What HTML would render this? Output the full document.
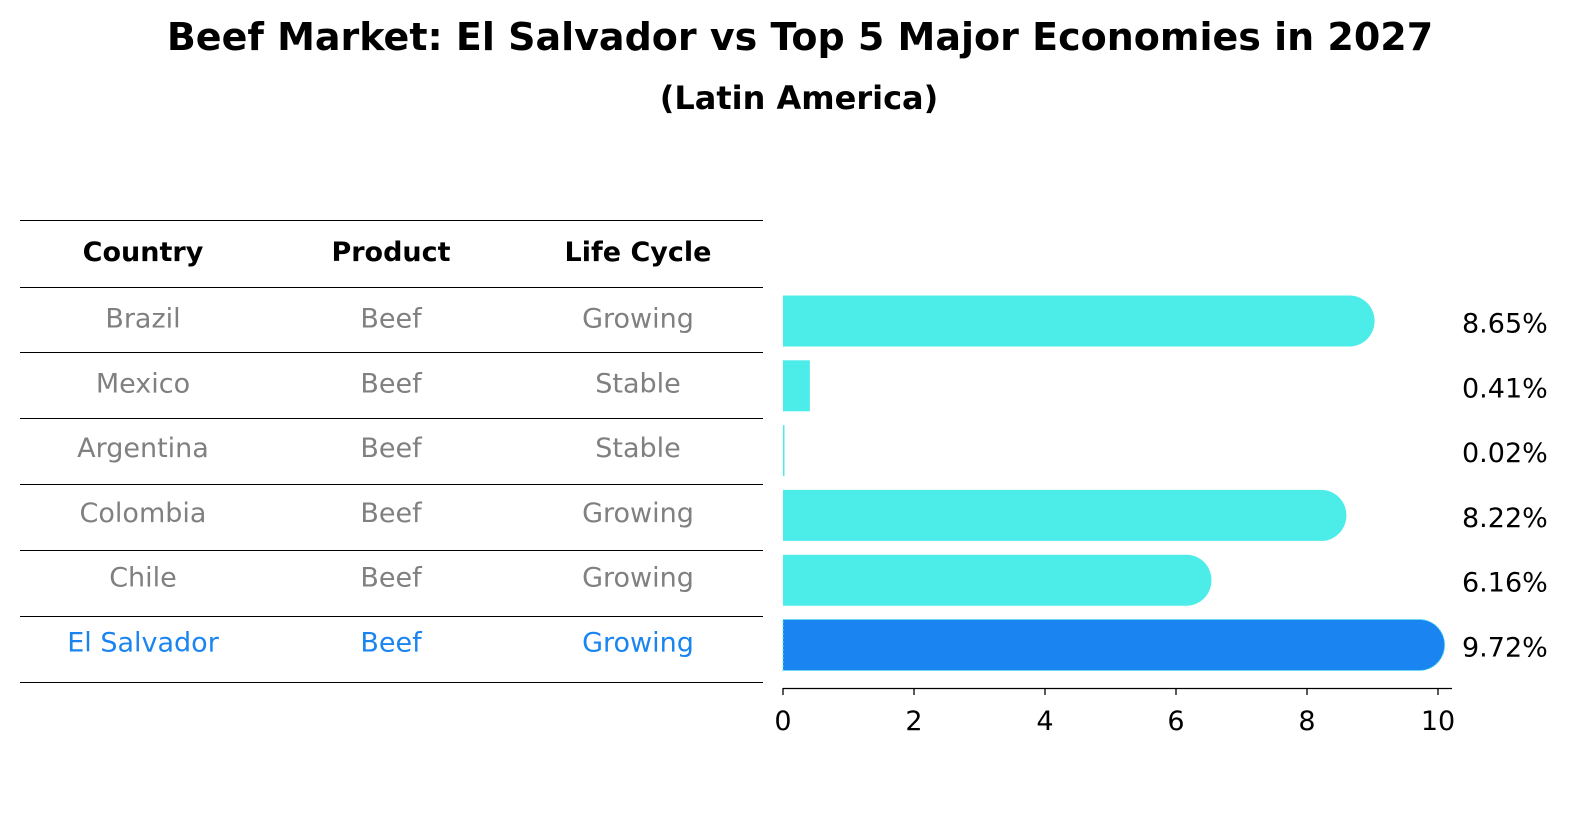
<!DOCTYPE html>
<html><head><meta charset="utf-8"><style>
body{margin:0;background:#fff;font-family:"DejaVu Sans","Liberation Sans",sans-serif;}
svg{display:block}
</style></head><body>
<svg id="c" width="1586" height="823" style="font-family:'DejaVu Sans','Liberation Sans',sans-serif">
<text x="800" y="50" text-anchor="middle" font-size="38" font-weight="bold">Beef Market: El Salvador vs Top 5 Major Economies in 2027</text>
<text x="799" y="109" text-anchor="middle" font-size="32" font-weight="bold">(Latin America)</text>
<g id="table"></g>
<g id="bars"></g>
</svg>
<script>
const countries=["Brazil","Mexico","Argentina","Colombia","Chile","El Salvador"];
const products=["Beef","Beef","Beef","Beef","Beef","Beef"];
const lifeCycles=["Growing","Stable","Stable","Growing","Growing","Growing"];
const values=[8.65,0.41,0.02,8.22,6.16,9.72];
const ticks=[0,2,4,6,8,10];
const NS="http://www.w3.org/2000/svg";
const x0=783,x10=1438;
const xs=v=>x0+(x10-x0)*v/10;
const rowY=i=>320.5+i*64.8;
function mk(tag,attrs,parent,text){const e=document.createElementNS(NS,tag);for(const k in attrs)e.setAttribute(k,attrs[k]);if(text!==undefined)e.textContent=text;parent.appendChild(e);return e;}
const tb=document.getElementById('table');
const lines=[220,287,352,418,484,550,616,682];
lines.forEach(y=>{const l=mk('line',{x1:20,x2:763,y1:y+0.5,y2:y+0.5,stroke:'#000','stroke-width':1},tb);

});
const cols=[143,391,638];
["Country","Product","Life Cycle"].forEach((h,j)=>{const t=mk('text',{x:cols[j],y:261,'text-anchor':'middle','font-size':27,'font-weight':'bold'},tb,h);

});
countries.forEach((c,i)=>{
 const col=i===countries.length-1?'#1a85f0':'#808080';
 [c,products[i],lifeCycles[i]].forEach((v,j)=>{
  const t=mk('text',{x:cols[j],y:rowY(i)+7,'text-anchor':'middle','font-size':27,fill:col},tb,v);
  
  
 });
});
const bg=document.getElementById('bars');
values.forEach((v,i)=>{
 const y=rowY(i)-25,h=51;
 const last=i===values.length-1;
 const col=last?'#1a85f0':'#4cece9';
 const xe=xs(v);
 let el;
 if(v>1){
  const w=xe+25-x0;
  el=mk('path',{d:`M${x0},${y} H${x0+w-25} A25,25.5 0 0 1 ${x0+w-25},${y+h} H${x0} Z`,fill:col},bg);
  if(last){el.setAttribute('stroke','#4cece9');el.setAttribute('stroke-width','1');el.setAttribute('stroke-dasharray','2,2');}
 } else {
  el=mk('rect',{x:x0,y:y,width:Math.max(xe-x0,1.5),height:h,fill:col},bg);
 }
 
 
 const t=mk('text',{x:1462,y:rowY(i)+12,'font-size':27},bg,v.toFixed(2)+'%');
 
 
});
const ax=mk('line',{x1:x0,x2:1452,y1:688.5,y2:688.5,stroke:'#000','stroke-width':1.3},bg);


ticks.forEach(t=>{
 const tk=mk('line',{x1:xs(t),x2:xs(t),y1:688,y2:695,stroke:'#000','stroke-width':1.3},bg);
 
 
 const l=mk('text',{x:xs(t),y:730,'text-anchor':'middle','font-size':27},bg,String(t));
 
 
});
</script>
</body></html>
